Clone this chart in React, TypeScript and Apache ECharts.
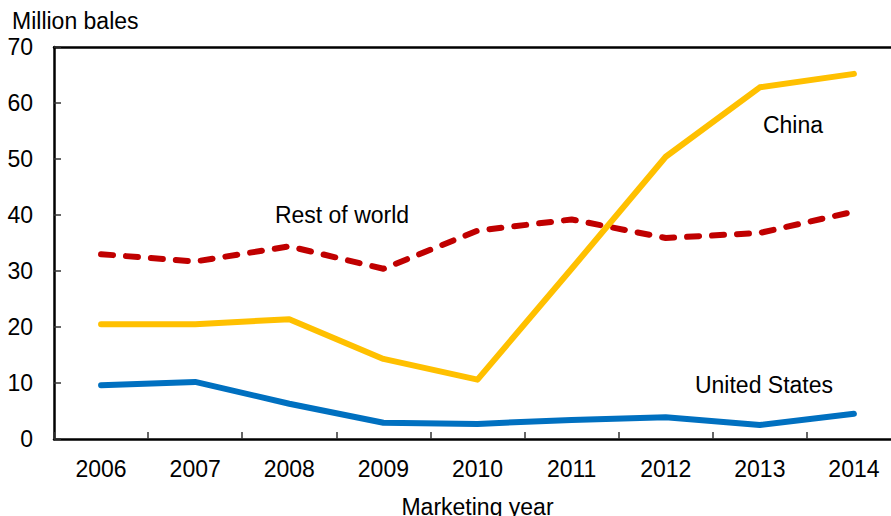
import * as echarts from 'echarts';
import { useEffect, useRef } from 'react';

const years = ['2006', '2007', '2008', '2009', '2010', '2011', '2012', '2013', '2014'];
const china = [20.5, 20.5, 21.4, 14.3, 10.6, 30.4, 50.4, 62.8, 65.2];
const restOfWorld = [33.0, 31.7, 34.4, 30.4, 37.2, 39.2, 35.9, 36.8, 40.6];
const unitedStates = [9.6, 10.2, 6.3, 2.9, 2.7, 3.4, 3.9, 2.5, 4.5];

const font = '"Liberation Sans", Arial, sans-serif';

export default function App() {
  const container = useRef<HTMLDivElement | null>(null);

  useEffect(() => {
    if (!container.current) return;
    const chart = echarts.init(container.current, undefined, { renderer: 'svg' });
    chart.setOption({
      animation: false,
      textStyle: { fontFamily: font, color: '#000' },
      grid: {
        left: 54,
        top: 47,
        bottom: 77,
        width: 847,
        outerBoundsMode: 'none',
        containLabel: false,
        show: false,
      },
      xAxis: [
        {
          type: 'category',
          data: years,
          boundaryGap: true,
          name: 'Marketing year',
          nameLocation: 'middle',
          nameGap: 56,
          nameTextStyle: { fontSize: 23, color: '#000', fontFamily: font },
          axisLine: { lineStyle: { color: '#000', width: 2.5 } },
          axisTick: { show: true, inside: true, length: 7, lineStyle: { color: '#333', width: 1.5 } },
          axisLabel: { fontSize: 23, color: '#000', margin: 18, fontFamily: font },
          splitLine: { show: false },
        },
        {
          type: 'category',
          data: years,
          position: 'top',
          axisLine: { show: true, lineStyle: { color: '#000', width: 2.5 } },
          axisTick: { show: false },
          axisLabel: { show: false },
          splitLine: { show: false },
        },
      ],
      yAxis: {
        type: 'value',
        min: 0,
        max: 70,
        interval: 10,
        axisLine: { show: true, lineStyle: { color: '#000', width: 2.5 } },
        axisTick: { show: true, inside: true, length: 7, lineStyle: { color: '#333', width: 1.5 } },
        axisLabel: { fontSize: 23, color: '#000', margin: 21, fontFamily: font },
        splitLine: { show: false },
      },
      series: [
        {
          name: 'Rest of world',
          type: 'line',
          data: restOfWorld,
          symbol: 'none',
          lineStyle: { color: '#C00000', width: 6, type: [12, 13], cap: 'round', join: 'round' },
        },
        {
          name: 'China',
          type: 'line',
          data: china,
          symbol: 'none',
          lineStyle: { color: '#FFC000', width: 6, cap: 'round', join: 'round' },
        },
        {
          name: 'United States',
          type: 'line',
          data: unitedStates,
          symbol: 'none',
          lineStyle: { color: '#0070C0', width: 6, cap: 'round', join: 'round' },
        },
      ],
      graphic: [
        {
          type: 'text',
          left: 12,
          top: 9,
          style: { text: 'Million bales', fontSize: 23, fill: '#000', fontFamily: font },
        },
        {
          type: 'text',
          x: 342,
          y: 215,
          style: { text: 'Rest of world', fontSize: 23, fill: '#000', fontFamily: font, align: 'center', verticalAlign: 'middle' },
        },
        {
          type: 'text',
          x: 793,
          y: 125,
          style: { text: 'China', fontSize: 23, fill: '#000', fontFamily: font, align: 'center', verticalAlign: 'middle' },
        },
        {
          type: 'text',
          x: 764,
          y: 385,
          style: { text: 'United States', fontSize: 23, fill: '#000', fontFamily: font, align: 'center', verticalAlign: 'middle' },
        },
      ],
    } as echarts.EChartsOption);
    return () => {
      chart.dispose();
    };
  }, []);

  return (
    <div
      ref={container}
      style={{ position: 'fixed', left: 0, top: 0, width: 891, height: 516, background: '#fff' }}
    />
  );
}
